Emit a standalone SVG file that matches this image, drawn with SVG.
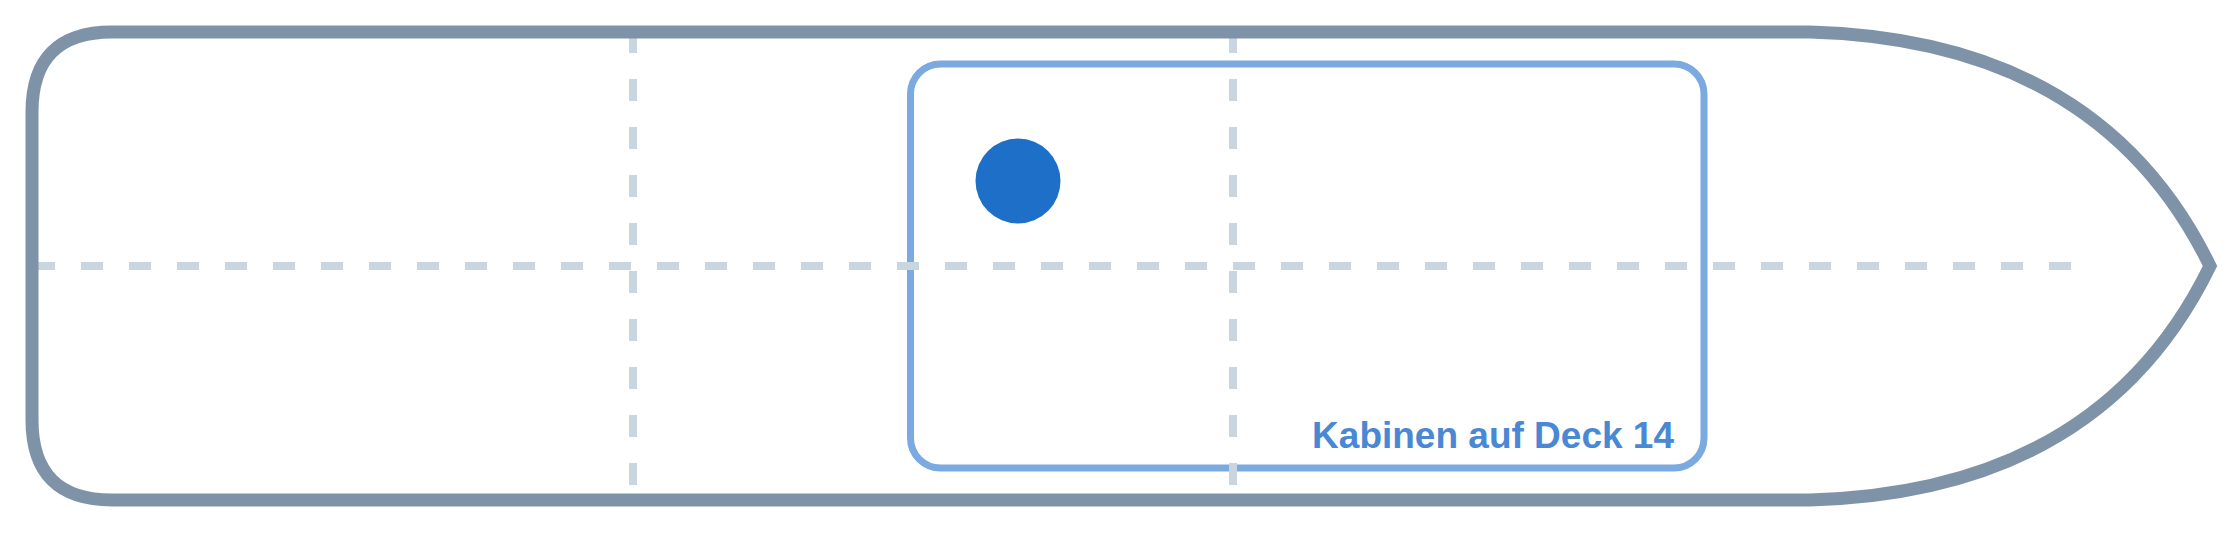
<svg xmlns="http://www.w3.org/2000/svg" width="2240" height="533" viewBox="0 0 2240 533">
  <style>
    .grid { stroke: #c9d5e1; stroke-width: 8; stroke-dasharray: 22 26; fill: none; }
    .hull { fill: none; stroke: #7f93a8; stroke-width: 13; stroke-linejoin: miter; }
    .zone { fill: none; stroke: #7aaae0; stroke-width: 7; }
    .label { font-family: "Liberation Sans", Arial, sans-serif; font-weight: bold; font-size: 37px; fill: #4a88d4; }
  </style>
  <rect width="2240" height="533" fill="#ffffff"/>
  <g id="cabin-zone">
    <rect class="zone" x="910.5" y="64" width="793.5" height="404" rx="30" ry="30"/>
    <text class="label" x="1674" y="448" text-anchor="end">Kabinen auf Deck 14</text>
  </g>
  <g id="grid">
    <line class="grid" x1="33" y1="266" x2="2072" y2="266"/>
    <line class="grid" x1="633" y1="31" x2="633" y2="487"/>
    <line class="grid" x1="1233" y1="31" x2="1233" y2="487"/>
  </g>
  <g id="hull">
    <path class="hull" d="M 112 32 H 1810 Q 2100 40 2210 266 Q 2100 492 1810 500 H 112 Q 32 500 32 420 V 112 Q 32 32 112 32 Z"/>
  </g>
  <g id="marker">
    <circle cx="1018" cy="181" r="42.5" fill="#1e6fc8"/>
  </g>
</svg>
